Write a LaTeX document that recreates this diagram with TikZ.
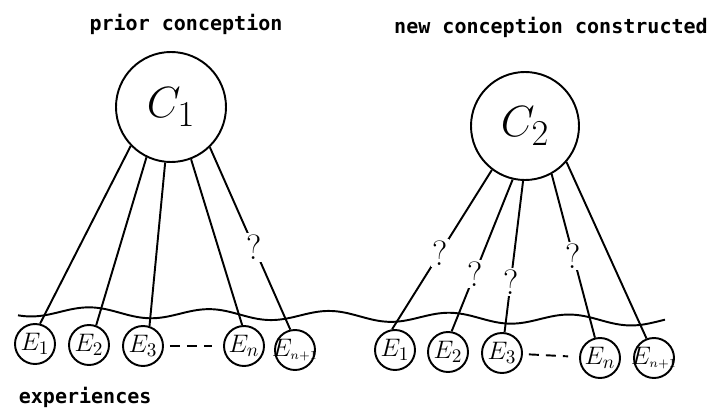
\documentclass[tikz,border=0pt]{standalone}
\usepackage{fontspec}
\setmonofont{DejaVu Sans Mono}
\begin{document}
\begin{tikzpicture}[x=0.2mm, y=-0.2mm, line width=1.1pt,
    concept/.style={circle, draw, minimum size=22mm, inner sep=0pt, font=\fontsize{32}{34}\selectfont},
    experience/.style={circle, draw, minimum size=8mm, inner sep=0pt, font=\fontsize{15}{17}\selectfont},
    caption/.style={font=\ttfamily\bfseries\fontsize{11.4}{13}\selectfont},
    query/.style={fill=white, inner sep=1pt, font=\fontsize{20}{22}\selectfont},
    gap/.style={dash pattern=on 2mm off 1.4mm, shorten <=1.2mm, shorten >=2.2mm}]
      \useasboundingbox (0,0) rectangle (721,409);

      % prior conception
      \node[caption] (prior) at (186,24) {prior conception};
      \node[concept] (c1) at (171,107) {$C_1$};
      \node[experience] (a1) at (35,344) {$E_1$};
      \node[experience] (a2) at (89,345) {$E_2$};
      \node[experience] (a3) at (143,346) {$E_3$};
      \node[experience] (an) at (244,346) {$E_n$};
      \node[experience, font=\fontsize{14}{16}\selectfont] (am) at (295,350) {\makebox[0pt]{$E_{\scriptscriptstyle n+1}$}};
      \draw (c1.224) -- (a1.76);
      \draw (c1.244) -- (a2.70);
      \draw (c1.264) -- (a3.72);
      \draw (c1.291) -- (an.95);
      \draw (c1.314) -- (am.103) node[query, pos=0.55] {?};
      \draw[gap] (a3) -- (an);

      % new conception
      \node[caption] (new) at (551,27) {new conception constructed};
      \node[concept, minimum size=21.6mm] (c2) at (525,126) {$C_2$};
      \node[experience] (b1) at (395,350) {$E_1$};
      \node[experience] (b2) at (448,352) {$E_2$};
      \node[experience] (b3) at (502,353) {$E_3$};
      \node[experience] (bn) at (600,358) {$E_n$};
      \node[experience, font=\fontsize{14}{16}\selectfont] (bm) at (654,358) {\makebox[0pt]{$E_{\scriptscriptstyle n+1}$}};
      \draw (c2.233) -- (b1.98) node[query, pos=0.52] {?};
      \draw (c2.257) -- (b2.80) node[query, pos=0.62] {?};
      \draw (c2.268) -- (b3.83) node[query, pos=0.67] {?};
      \draw (c2.299) -- (bn.104) node[query, pos=0.5] {?};
      \draw (c2.319) -- (bm.111);
      \draw[gap] (b3) -- (bn);

      % surface of experience
      \draw plot[smooth, domain=18:665, samples=120] (\x, {311 + 0.015*\x + 5*sin(3*\x)});
      \node[caption, anchor=west] (exp) at (12,397) {experiences};
\end{tikzpicture}
\end{document}
